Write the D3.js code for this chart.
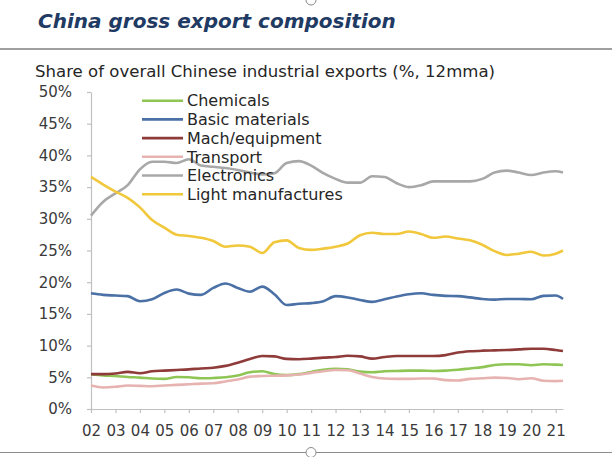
<!DOCTYPE html>
<html>
<head>
<meta charset="utf-8">
<script src="https://cdn.jsdelivr.net/npm/d3@7"></script>
<style>
  body { margin: 0; background: #fff; }
  svg { display: block; }
  text { font-family: "DejaVu Sans", sans-serif; }
</style>
</head>
<body>
<div id="chart"></div>
<script>
// half-yearly readings, Jan 2002 .. Apr 2021 (% of industrial exports, 12mma)
const dates = [2002, 2002.5, 2003, 2003.5, 2004, 2004.5, 2005, 2005.5, 2006, 2006.5,
  2007, 2007.5, 2008, 2008.5, 2009, 2009.5, 2010, 2010.5, 2011, 2011.5,
  2012, 2012.5, 2013, 2013.5, 2014, 2014.5, 2015, 2015.5, 2016, 2016.5,
  2017, 2017.5, 2018, 2018.5, 2019, 2019.5, 2020, 2020.5, 2021, 2021.3];

const chemicals = [5.45, 5.3, 5.2, 5.05, 4.95, 4.8, 4.75, 5.05, 5.0, 4.85,
  4.9, 5.0, 5.3, 5.8, 5.95, 5.5, 5.35, 5.5, 5.85, 6.2,
  6.35, 6.25, 5.9, 5.8, 5.95, 6.0, 6.05, 6.05, 6.0, 6.05,
  6.2, 6.4, 6.6, 6.95, 7.05, 7.05, 6.9, 7.05, 7.0, 6.95];

const basicMaterials = [18.25, 18.0, 17.9, 17.8, 17.0, 17.3, 18.3, 18.85, 18.2, 18.0,
  19.1, 19.8, 19.1, 18.5, 19.3, 18.1, 16.4, 16.6, 16.7, 17.0,
  17.8, 17.6, 17.2, 16.9, 17.3, 17.75, 18.1, 18.25, 18.0, 17.85,
  17.8, 17.6, 17.35, 17.25, 17.35, 17.35, 17.3, 17.85, 17.9, 17.35];

const machEquipment = [5.5, 5.5, 5.6, 5.85, 5.65, 5.95, 6.05, 6.15, 6.25, 6.4,
  6.5, 6.8, 7.3, 7.9, 8.35, 8.3, 7.9, 7.85, 7.95, 8.1,
  8.2, 8.4, 8.3, 7.95, 8.2, 8.35, 8.35, 8.35, 8.35, 8.5,
  8.9, 9.1, 9.2, 9.25, 9.3, 9.4, 9.5, 9.5, 9.3, 9.15];

const transport = [3.7, 3.4, 3.5, 3.7, 3.65, 3.6, 3.7, 3.8, 3.9, 4.0,
  4.05, 4.35, 4.65, 5.1, 5.2, 5.25, 5.3, 5.45, 5.7, 5.95,
  6.15, 6.1, 5.6, 5.05, 4.8, 4.75, 4.75, 4.8, 4.8, 4.55,
  4.5, 4.75, 4.85, 4.95, 4.9, 4.7, 4.85, 4.45, 4.4, 4.45];

const electronics = [30.5, 32.7, 34.0, 35.3, 37.8, 39.0, 39.0, 38.8, 39.4, 38.4,
  38.2, 38.0, 37.7, 37.3, 37.0, 37.2, 38.8, 39.1, 38.4, 37.2,
  36.3, 35.7, 35.7, 36.7, 36.6, 35.6, 35.0, 35.3, 35.9, 35.9,
  35.9, 35.9, 36.3, 37.3, 37.6, 37.3, 36.9, 37.3, 37.5, 37.3];

const lightManufactures = [36.6, 35.4, 34.3, 33.3, 31.8, 29.8, 28.6, 27.5, 27.3, 27.0,
  26.5, 25.6, 25.8, 25.6, 24.6, 26.3, 26.6, 25.4, 25.1, 25.3,
  25.6, 26.1, 27.4, 27.8, 27.6, 27.6, 28.0, 27.6, 27.0, 27.2,
  26.9, 26.6, 25.9, 24.9, 24.3, 24.5, 24.8, 24.2, 24.5, 25.0];

const seriesNames = ["Chemicals", "Basic materials", "Mach/equipment", "Transport", "Electronics", "Light manufactures"];
const seriesColors = ["#8fc555", "#4a70a6", "#8e3b3a", "#e6b3b1", "#a8a8a8", "#f1c83c"];
const seriesValues = [chemicals, basicMaterials, machEquipment, transport, electronics, lightManufactures];

const yTicks = [0, 5, 10, 15, 20, 25, 30, 35, 40, 45, 50];
const xTicks = d3.range(2002, 2022);

const width = 612, height = 457;
const plot = {left: 91, right: 563, top: 92, bottom: 409};

const svg = d3.select("#chart")
    .append("svg")
    .attr("width", width)
    .attr("height", height);

// page frame: title rule, bottom rule and the little handles
svg.append("line")
    .attr("x1", 0).attr("x2", width).attr("y1", 49).attr("y2", 49)
    .attr("stroke", "#808080").attr("stroke-width", 1.3);
svg.append("line")
    .attr("x1", 0).attr("x2", width).attr("y1", 452.5).attr("y2", 452.5)
    .attr("stroke", "#8c8c8c").attr("stroke-width", 1.2);
svg.append("circle")
    .attr("cx", 311).attr("cy", 0).attr("r", 5)
    .attr("fill", "#fff").attr("stroke", "#888").attr("stroke-width", 1);
svg.append("circle")
    .attr("cx", 311).attr("cy", 452.5).attr("r", 5)
    .attr("fill", "#fff").attr("stroke", "#888").attr("stroke-width", 1);

// title + subtitle
svg.append("text")
    .attr("x", 38).attr("y", 28)
    .attr("fill", "#1f3a63")
    .style("font-size", "20px")
    .style("font-weight", "bold")
    .style("font-style", "italic")
    .text("China gross export composition");

// the source picture is stretched sideways, so widen the subtitle to match
svg.append("text")
    .attr("x", 35).attr("y", 77)
    .attr("fill", "#262626")
    .attr("textLength", 460)
    .attr("lengthAdjust", "spacingAndGlyphs")
    .style("font-size", "15px")
    .text("Share of overall Chinese industrial exports (%, 12mma)");

// scales
const xScale = d3.scaleLinear()
    .domain([2002, 2021.3])
    .range([plot.left, plot.right]);
const yScale = d3.scaleLinear()
    .domain([0, 50])
    .range([plot.bottom, plot.top]);

// y axis
const yAxis = svg.append("g")
    .attr("transform", `translate(${plot.left}, 0)`)
    .call(d3.axisLeft(yScale)
        .tickValues(yTicks)
        .tickFormat(d => d + "%")
        .tickSize(4)
        .tickSizeOuter(0)
        .tickPadding(15));

// x axis
const xAxis = svg.append("g")
    .attr("transform", `translate(0, ${plot.bottom})`)
    .call(d3.axisBottom(xScale)
        .tickValues(xTicks)
        .tickFormat(d => String(d).slice(2))
        .tickSize(4)
        .tickSizeOuter(0)
        .tickPadding(12));

[yAxis, xAxis].forEach(ax => {
    ax.select(".domain").attr("stroke", "#c0c0c0").attr("stroke-width", 1.2);
    ax.selectAll(".tick line").attr("stroke", "#c0c0c0").attr("stroke-width", 1.2);
    ax.selectAll(".tick text")
        .attr("fill", "#3a3a3a")
        .style("font-family", "DejaVu Sans, sans-serif")
        .style("font-size", "15px");
});

// lines
const line = d3.line()
    .x((d, i) => xScale(dates[i]))
    .y(d => yScale(d))
    .curve(d3.curveMonotoneX);

svg.selectAll(".series")
    .data(seriesValues)
    .enter()
    .append("path")
    .attr("class", "series")
    .attr("d", d => line(d))
    .attr("fill", "none")
    .attr("stroke", (d, i) => seriesColors[i])
    .attr("stroke-width", 2.6)
    .attr("stroke-linejoin", "round");

// legend (drawn over the lines, no box)
const legend = svg.append("g")
    .attr("transform", "translate(142, 100.7)");

const items = legend.selectAll(".item")
    .data(seriesNames)
    .enter()
    .append("g")
    .attr("class", "item")
    .attr("transform", (d, i) => `translate(0, ${i * 18.7})`);

items.append("line")
    .attr("x1", 0).attr("x2", 41)
    .attr("stroke", (d, i) => seriesColors[i])
    .attr("stroke-width", 2.6);

items.append("text")
    .attr("x", 45)
    .attr("dy", "0.36em")
    .attr("fill", "#262626")
    .style("font-size", "16px")
    .text(d => d);
</script>
</body>
</html>
